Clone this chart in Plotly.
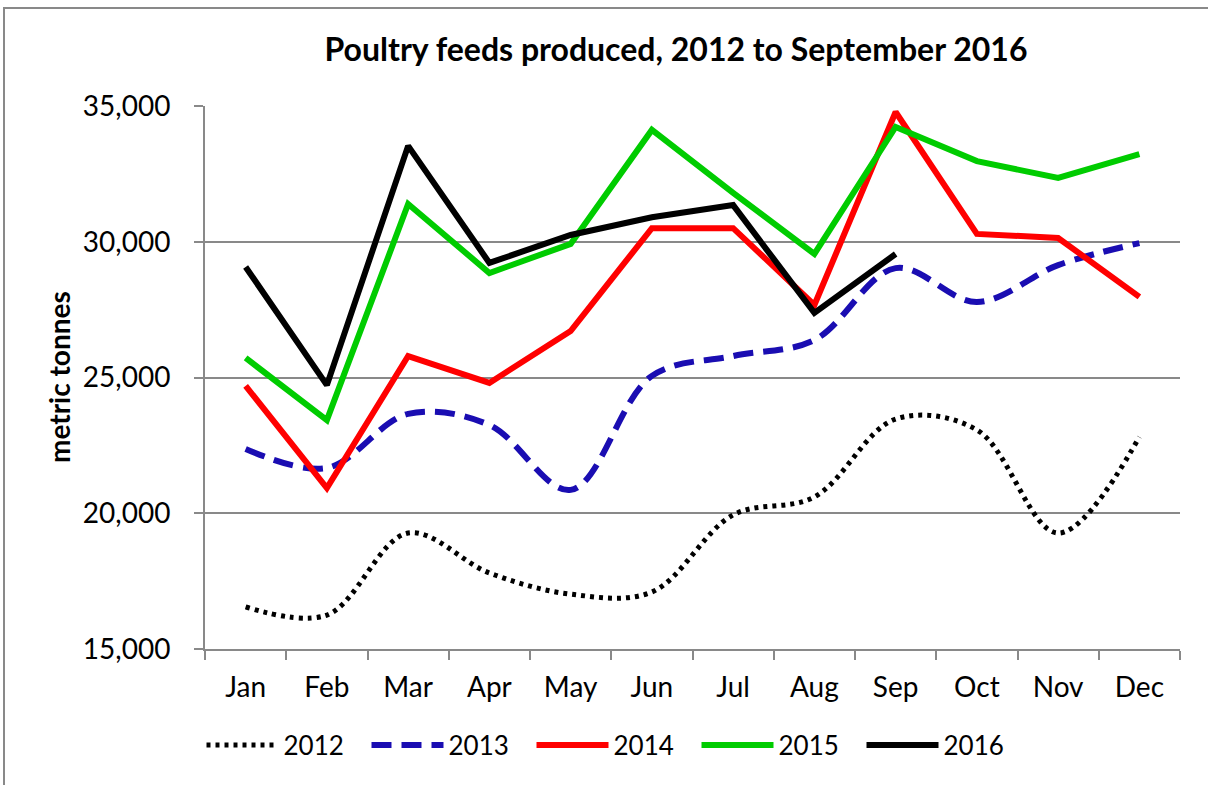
import plotly.graph_objects as go

months = ["Jan", "Feb", "Mar", "Apr", "May", "Jun", "Jul", "Aug", "Sep", "Oct", "Nov", "Dec"]
y2012 = [16550, 16250, 19270, 17800, 17020, 17100, 19940, 20600, 23470, 23070, 19270, 22810]
y2013 = [22370, 21670, 23660, 23250, 20860, 25060, 25790, 26380, 29030, 27780, 29140, 29950]
y2014 = [24690, 20930, 25790, 24800, 26710, 30500, 30500, 27670, 34780, 30290, 30140, 27970]
y2015 = [25720, 23430, 31390, 28850, 29920, 34120, 31800, 29550, 34230, 32970, 32350, 33230]
y2016 = [29070, 24720, 33530, 29220, 30250, 30900, 31350, 27380, 29550]
y_ticks = [15000, 20000, 25000, 30000, 35000]
y_tick_text = ["15,000", "20,000", "25,000", "30,000", "35,000"]

FONT = "Lato, 'Open Sans', sans-serif"

fig = go.Figure()
fig.add_trace(go.Scatter(x=months, y=y2012, name="2012", mode="lines",
                         line=dict(color="#000000", width=5, dash="4px,5px", shape="spline", smoothing=1)))
fig.add_trace(go.Scatter(x=months, y=y2013, name="2013", mode="lines",
                         line=dict(color="#1A0DB2", width=6, dash="20px,10px", shape="spline", smoothing=1)))
fig.add_trace(go.Scatter(x=months, y=y2014, name="2014", mode="lines",
                         line=dict(color="#FF0000", width=6)))
fig.add_trace(go.Scatter(x=months, y=y2015, name="2015", mode="lines",
                         line=dict(color="#00CC00", width=6)))
fig.add_trace(go.Scatter(x=months[:len(y2016)], y=y2016, name="2016", mode="lines",
                         line=dict(color="#000000", width=6)))

W, H = 1208, 785
L, R, T, B = 205, 1180, 106, 649
pw, ph = R - L, B - T

def px(x):
    return (x - L) / pw

def py(y):
    return (B - y) / ph

fig.update_layout(
    width=W, height=H,
    margin=dict(l=L, r=W - R, t=T, b=H - B, autoexpand=False),
    paper_bgcolor="white", plot_bgcolor="white",
    font=dict(family=FONT, size=28, color="black"),
    title=dict(text="<b>Poultry feeds produced, 2012 to September 2016</b>",
               x=676 / W, xanchor="center", y=1 - 50 / H, yanchor="middle",
               font=dict(family=FONT, size=32, color="black")),
    showlegend=True,
    legend=dict(orientation="h", x=px(614), xanchor="center", y=py(745), yanchor="middle",
                font=dict(family=FONT, size=26, color="black"),
                itemwidth=72, entrywidth=78, entrywidthmode="pixels",
                bgcolor="rgba(0,0,0,0)"),
    xaxis=dict(type="category", showgrid=False, showline=True, linecolor="#898989", linewidth=2,
               ticks="outside", tickson="boundaries", ticklen=9, tickcolor="#898989", tickwidth=2,
               tickfont=dict(family=FONT, size=28, color="black"), ticklabelstandoff=12,
               range=[-0.5, 11.5], fixedrange=True),
    yaxis=dict(range=[15000, 35000], tickvals=y_ticks, ticktext=y_tick_text,
               showgrid=True, gridcolor="#898989", gridwidth=2,
               showline=True, linecolor="#898989", linewidth=2,
               ticks="outside", ticklen=9, tickcolor="#898989", tickwidth=2,
               tickfont=dict(family=FONT, size=28, color="black"), ticklabelstandoff=18,
               zeroline=False, fixedrange=True),
    shapes=[dict(type="rect", xref="paper", yref="paper",
                 x0=px(4), x1=px(1240), y0=py(830), y1=py(8),
                 line=dict(color="#898989", width=2), fillcolor="rgba(0,0,0,0)", layer="below")],
    annotations=[dict(text="<b>metric tonnes</b>", xref="paper", yref="paper",
                      x=px(59), y=py(377), xanchor="center", yanchor="middle",
                      textangle=-90, showarrow=False,
                      font=dict(family=FONT, size=28, color="black"))],
)

fig.write_html("out.html", config={"displayModeBar": False},
               post_script="document.body.style.margin='0';document.body.style.overflow='hidden';")
